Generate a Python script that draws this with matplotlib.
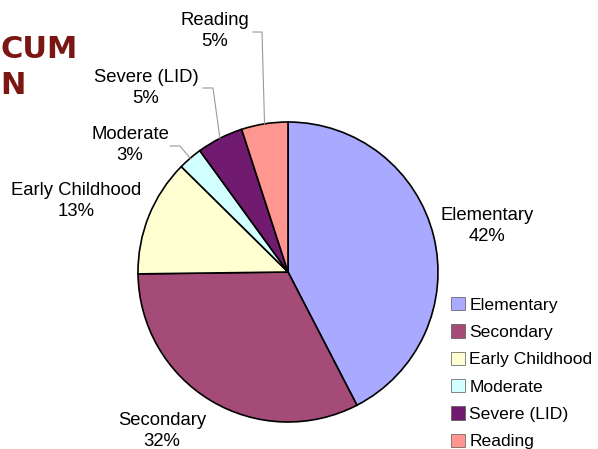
import matplotlib
matplotlib.use("Agg")
import matplotlib.pyplot as plt
import numpy as np
from matplotlib.patches import Patch
from matplotlib.lines import Line2D

categories = ["Elementary", "Secondary", "Early Childhood", "Moderate", "Severe (LID)", "Reading"]
values = [42.4, 32.4, 12.6, 2.6, 5.0, 5.0]
colors = ["#A9A9FF", "#A54B78", "#FFFFD2", "#D2FFFF", "#701A70", "#FF9790"]

W, H = 598, 449
plt.rcParams['font.family'] = ['Liberation Sans', 'DejaVu Sans']
fig = plt.figure(figsize=(W / 100, H / 100), dpi=100)

def fp(x, y):
    return (x / W, 1 - y / H)

cx, cy, r = 288, 272, 150
ax = fig.add_axes([(cx - r) / W, (H - cy - r) / H, 2 * r / W, 2 * r / H])
wedges, _ = ax.pie(values, colors=colors, startangle=90, counterclock=False,
                   radius=1.0, wedgeprops=dict(edgecolor="black", linewidth=1.2))
ax.set_xlim(-1, 1)
ax.set_ylim(-1, 1)
ax.set_aspect("equal")
ax.axis("off")

# label positions (pixel centers) and optional leader elbows
label_pos = [(487, 226), (162, 431), (76, 201), (130, 145), (146, 88), (215, 31)]
leader = [None, None, None, (170, 180, 146), (203, 213, 88), (253, 262, 32)]
fs = 13.3
inv = fig.transFigure.inverted()
for i, w in enumerate(wedges):
    pct = values[i] / sum(values) * 100
    txt = f"{categories[i]}\n{pct:.0f}%"
    x, y = label_pos[i]
    fig.text(*fp(x, y), txt, ha="center", va="center", fontsize=fs,
             linespacing=1.25, color="black")
    if leader[i] is not None:
        mid = np.deg2rad((w.theta1 + w.theta2) / 2)
        rim = ax.transData.transform((np.cos(mid), np.sin(mid)))
        rim_f = inv.transform(rim)
        x0, x1, ly = leader[i]
        p0 = fp(x0, ly)
        p1 = fp(x1, ly)
        fig.add_artist(Line2D([p0[0], p1[0], rim_f[0]], [p0[1], p1[1], rim_f[1]],
                              transform=fig.transFigure, color="#9a9a9a", lw=0.8))

# legend
handles = [Patch(facecolor=c, edgecolor="#555555", linewidth=0.5) for c in colors]
fig.legend(handles, categories, loc="upper left", bbox_to_anchor=fp(451, 297),
           frameon=False, fontsize=12.6, handlelength=0.8, handleheight=0.8,
           handletextpad=0.25, labelspacing=0.66, borderaxespad=0, borderpad=0)

# cropped title fragments
fig.text(*fp(78, 50), "CUM", ha="right", va="center", fontsize=22, fontweight="bold",
         color="#7B1712", family="DejaVu Sans")
fig.text(*fp(26, 86), "N", ha="right", va="center", fontsize=22, fontweight="bold",
         color="#7B1712", family="DejaVu Sans")

fig.savefig("out.png", dpi=100)
